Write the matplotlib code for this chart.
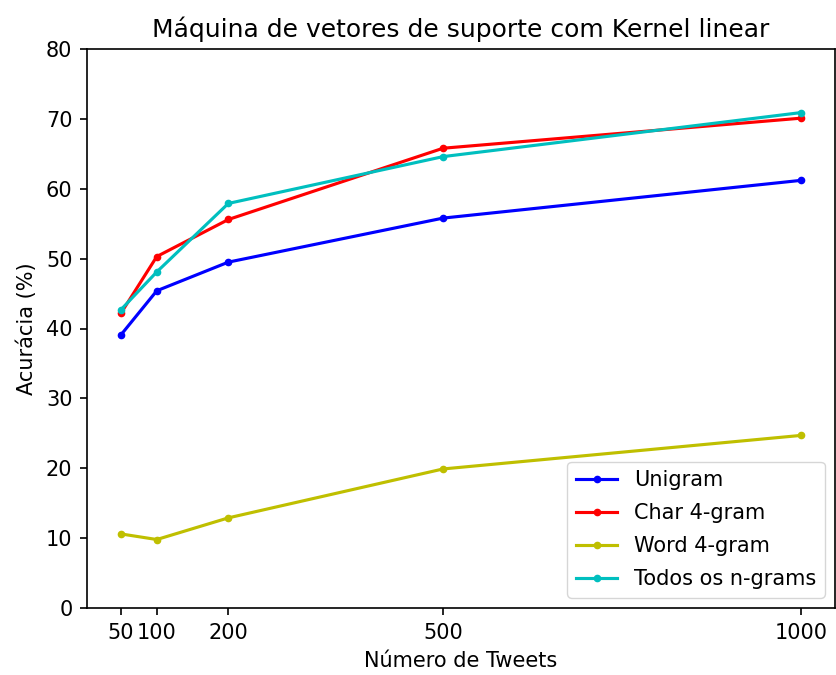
import matplotlib
matplotlib.use('Agg')
import matplotlib.pyplot as plt

# numero de tweets
tweets = [50, 100, 200, 500, 1000]

# acuracia (%) por tipo de feature
unigram = [39.1, 45.4, 49.5, 55.8, 61.2]
char_4gram = [42.2, 50.3, 55.6, 65.8, 70.1]
word_4gram = [10.6, 9.8, 12.9, 19.9, 24.7]
todos_ngrams = [42.7, 48.1, 57.9, 64.6, 70.9]

# referencia parece renderizada ~1.5x (dpi 150), entao escalo tudo
s = 1.5
plt.rcParams['font.size'] = 10 * s
plt.rcParams['lines.linewidth'] = 1.5 * s
plt.rcParams['lines.markersize'] = 6 * s
plt.rcParams['axes.linewidth'] = 0.8 * s
plt.rcParams['xtick.major.size'] = 3.5 * s
plt.rcParams['ytick.major.size'] = 3.5 * s
plt.rcParams['xtick.major.width'] = 0.8 * s
plt.rcParams['ytick.major.width'] = 0.8 * s
plt.rcParams['xtick.major.pad'] = 3.5 * s
plt.rcParams['ytick.major.pad'] = 3.5 * s

fig = plt.figure(figsize=(8.36, 6.75), dpi=100)
ax = fig.add_axes([87 / 836, 67 / 675, (835 - 87) / 836, (608 - 49) / 675])

ax.plot(tweets, unigram, 'b.-', label='Unigram')
ax.plot(tweets, char_4gram, 'r.-', label='Char 4-gram')
ax.plot(tweets, word_4gram, 'y.-', label='Word 4-gram')
ax.plot(tweets, todos_ngrams, 'c.-', label='Todos os n-grams')

ax.set_xticks(tweets)
ax.set_ylim(0, 80)
ax.set_xlim(2.5, 1047.5)
ax.set_title('Máquina de vetores de suporte com Kernel linear', fontsize=12 * s, pad=6 * s)
ax.set_xlabel('Número de Tweets', labelpad=4 * s)
ax.set_ylabel('Acurácia (%)', labelpad=4 * s)
ax.legend(loc='lower right', labelspacing=0.62)

fig.savefig('out.png', dpi=100)
